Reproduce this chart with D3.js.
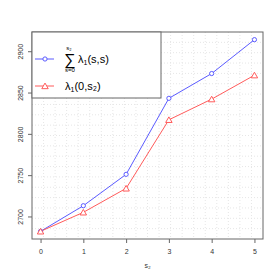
<!DOCTYPE html>
<html>
<head>
<meta charset="utf-8">
<script src="https://cdn.jsdelivr.net/npm/d3@7"></script>
<style>
  body { margin: 0; background: #fff; }
  text { font-family: "Liberation Sans", Arial, sans-serif; }
</style>
</head>
<body>
<div id="chart"></div>
<script>
// data
const s2 = [0, 1, 2, 3, 4, 5];
const sumLambda = [2682, 2713, 2751, 2843, 2873, 2914];
const lambdaZero = [2682, 2705, 2734, 2817, 2842, 2871];
const yTicks = [2700, 2750, 2800, 2850, 2900];

const width = 280;
const height = 280;
const margin = { top: 32, right: 17, bottom: 41, left: 32 };

const svg = d3.select("#chart")
  .append("svg")
  .attr("width", width)
  .attr("height", height);

// R style: 4% padding around the data range
const allY = sumLambda.concat(lambdaZero);
const yMin = d3.min(allY), yMax = d3.max(allY);
const yPad = (yMax - yMin) * 0.04;
const xPad = (d3.max(s2) - d3.min(s2)) * 0.04;

const x = d3.scaleLinear()
  .domain([d3.min(s2) - xPad, d3.max(s2) + xPad])
  .range([margin.left, width - margin.right]);

const y = d3.scaleLinear()
  .domain([yMin - yPad, yMax + yPad])
  .range([height - margin.bottom, margin.top]);

// grid (20 equal cells each way, dotted)
const gx = d3.range(1, 20).map(i => x.domain()[0] + i * (x.domain()[1] - x.domain()[0]) / 20);
const gy = d3.range(1, 20).map(i => y.domain()[0] + i * (y.domain()[1] - y.domain()[0]) / 20);

svg.append("g")
  .selectAll("line")
  .data(gx)
  .enter()
  .append("line")
  .attr("x1", d => x(d)).attr("x2", d => x(d))
  .attr("y1", margin.top).attr("y2", height - margin.bottom)
  .attr("stroke", "#e6e6e6")
  .attr("stroke-dasharray", "1,2");

svg.append("g")
  .selectAll("line")
  .data(gy)
  .enter()
  .append("line")
  .attr("y1", d => y(d)).attr("y2", d => y(d))
  .attr("x1", margin.left).attr("x2", width - margin.right)
  .attr("stroke", "#e6e6e6")
  .attr("stroke-dasharray", "1,2");

// axes
const xAxis = svg.append("g")
  .attr("transform", `translate(0,${height - margin.bottom})`)
  .call(d3.axisBottom(x).tickValues(s2).tickSize(4).tickPadding(6).tickFormat(d3.format("d")));

const yAxis = svg.append("g")
  .attr("transform", `translate(${margin.left},0)`)
  .call(d3.axisLeft(y).tickValues(yTicks).tickSize(4).tickFormat(d3.format("d")));

[xAxis, yAxis].forEach(a => {
  a.select(".domain").remove();
  a.selectAll("line").attr("stroke", "#666");
  a.selectAll("text").attr("font-size", 7).attr("fill", "#333");
});

// rotated y labels, R style
yAxis.selectAll(".tick text")
  .attr("x", 0)
  .attr("y", 0)
  .attr("dy", "0.35em")
  .attr("text-anchor", "middle")
  .attr("transform", "translate(-11,0) rotate(-90)");

// plot box
svg.append("rect")
  .attr("x", margin.left)
  .attr("y", margin.top)
  .attr("width", width - margin.left - margin.right)
  .attr("height", height - margin.top - margin.bottom)
  .attr("fill", "none")
  .attr("stroke", "#666");

// x title
svg.append("text")
  .attr("x", (x.range()[0] + x.range()[1]) / 2)
  .attr("y", 268)
  .attr("text-anchor", "middle")
  .attr("font-size", 7)
  .attr("fill", "#333")
  .text("s₂");

// series
const blue = "#5b5bff";
const red = "#ff5b5b";

const line = d3.line()
  .x((d, i) => x(s2[i]))
  .y(d => y(d));

svg.append("path")
  .datum(sumLambda)
  .attr("d", line)
  .attr("fill", "none")
  .attr("stroke", blue)
  .attr("stroke-width", 1);

svg.append("path")
  .datum(lambdaZero)
  .attr("d", line)
  .attr("fill", "none")
  .attr("stroke", red)
  .attr("stroke-width", 1);

const circle = d3.symbol().type(d3.symbolCircle).size(14);
const triangle = d3.symbol().type(d3.symbolTriangle).size(18);

svg.append("g")
  .selectAll("path")
  .data(sumLambda)
  .enter()
  .append("path")
  .attr("d", circle)
  .attr("transform", (d, i) => `translate(${x(s2[i])},${y(d)})`)
  .attr("fill", "white")
  .attr("stroke", blue);

svg.append("g")
  .selectAll("path")
  .data(lambdaZero)
  .enter()
  .append("path")
  .attr("d", triangle)
  .attr("transform", (d, i) => `translate(${x(s2[i])},${y(d) + 0.8})`)
  .attr("fill", "white")
  .attr("stroke", red);

// legend
const legend = svg.append("g");
legend.append("rect")
  .attr("x", margin.left)
  .attr("y", margin.top)
  .attr("width", 129)
  .attr("height", 66)
  .attr("fill", "white")
  .attr("stroke", "#666");

legend.append("line")
  .attr("x1", 35).attr("x2", 54).attr("y1", 59).attr("y2", 59)
  .attr("stroke", blue);
legend.append("path")
  .attr("d", circle)
  .attr("transform", "translate(45,59)")
  .attr("fill", "white")
  .attr("stroke", blue);

legend.append("line")
  .attr("x1", 35).attr("x2", 54).attr("y1", 86).attr("y2", 86)
  .attr("stroke", red);
legend.append("path")
  .attr("d", triangle)
  .attr("transform", "translate(45,86.8)")
  .attr("fill", "white")
  .attr("stroke", red);

// sum symbol with limits
legend.append("text")
  .attr("x", 70).attr("y", 65)
  .attr("text-anchor", "middle")
  .attr("font-size", 16)
  .text("∑");
legend.append("text")
  .attr("x", 69).attr("y", 50)
  .attr("text-anchor", "middle")
  .attr("font-size", 6)
  .text("s₂");
legend.append("text")
  .attr("x", 70).attr("y", 72)
  .attr("text-anchor", "middle")
  .attr("font-size", 6)
  .text("s=0");

function lambdaLabel(xp, yp, args) {
  const t = legend.append("text")
    .attr("x", xp).attr("y", yp)
    .attr("font-size", 11);
  t.append("tspan").text("λ");
  t.append("tspan").attr("font-size", 7).attr("dy", 2).text("1");
  t.append("tspan").attr("dy", -2).text(args);
}
lambdaLabel(78, 63, "(s,s)");
lambdaLabel(65, 90, "(0,s₂)");
</script>
</body>
</html>
